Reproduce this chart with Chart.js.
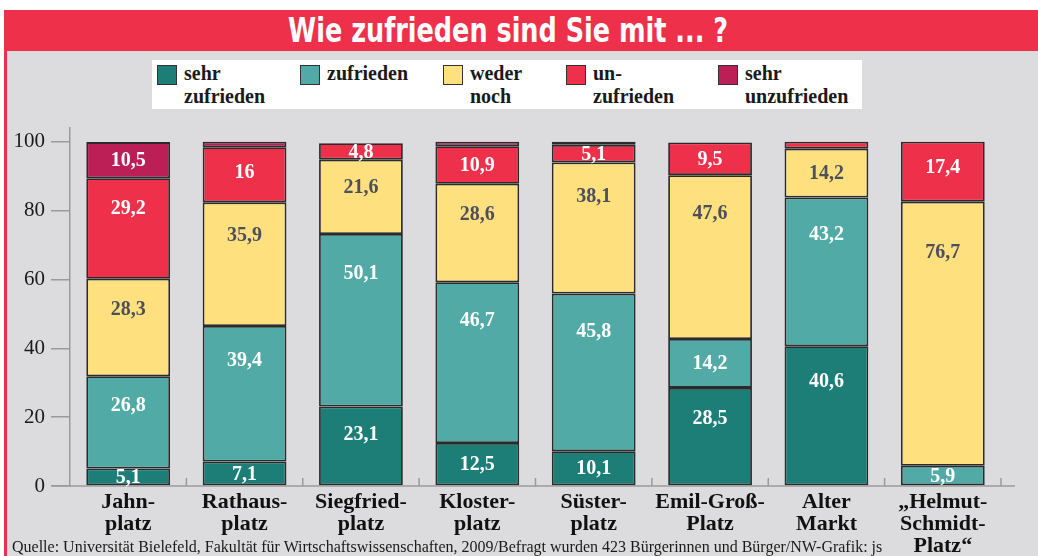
<!DOCTYPE html>
<html lang="de">
<head>
    <meta charset="UTF-8">
    <title>Wie zufrieden sind Sie mit ... ?</title>
    <script src="https://cdn.jsdelivr.net/npm/chart.js"></script>
    <style>
        body {
            margin: 0;
            width: 1038px;
            height: 556px;
            background: #fff;
            position: relative;
            overflow: hidden;
            font-family: "Liberation Serif", "DejaVu Serif", serif;
        }
        .frame {
            position: absolute;
            left: 4px; top: 10px; width: 1034px; height: 546px;
            background: #ef304b;
        }
        .panel {
            position: absolute;
            left: 7px; top: 51px; width: 1031px; height: 505px;
            background: #dcdcde;
        }
        .title {
            position: absolute;
            left: 0; top: 10px; width: 1016px; height: 41px;
            line-height: 41px;
            text-align: center;
            color: #fff;
            font-family: "Liberation Sans Narrow", "DejaVu Sans Condensed", sans-serif;
            font-weight: bold;
            font-size: 33px;
        }
        .title span { display: inline-block; transform-origin: 50% 50%; }
        .legend {
            position: absolute;
            left: 152px; top: 60px; width: 710px; height: 49px;
            background: #fff;
        }
        .legend .item { position: absolute; top: 0; }
        .legend .swatch {
            position: absolute;
            top: 5px; left: 0;
            width: 18px; height: 18px;
            border: 1px solid #333;
        }
        .legend .text {
            position: absolute;
            top: 2px; left: 27px;
            white-space: nowrap;
            font-weight: bold;
            font-size: 20px;
            line-height: 23px;
            color: #1a1a1a;
        }
        #chart { position: absolute; left: 0; top: 0; }
        .source {
            position: absolute;
            left: 12px; top: 537px;
            white-space: nowrap;
            font-size: 16px;
            line-height: 20px;
            color: #1a1a1a;
        }
    </style>
</head>
<body>
    <div class="frame"></div>
    <div class="panel"></div>
    <div class="title"><span id="titleText">Wie zufrieden sind Sie mit ... ?</span></div>
    <div class="legend" id="legend"></div>
    <canvas id="chart" width="1038" height="556"></canvas>
    <div class="source">Quelle: Universität Bielefeld, Fakultät für Wirtschaftswissenschaften, 2009/Befragt wurden 423 Bürgerinnen und Bürger/NW-Grafik: js</div>
    <script>
        const categories = [
            ['Jahn-', 'platz'],
            ['Rathaus-', 'platz'],
            ['Siegfried-', 'platz'],
            ['Kloster-', 'platz'],
            ['Süster-', 'platz'],
            ['Emil-Groß-', 'Platz'],
            ['Alter', 'Markt'],
            ['„Helmut-', 'Schmidt-', 'Platz“']
        ];
        const sehrZufrieden   = [5.1, 7.1, 23.1, 12.5, 10.1, 28.5, 40.6, null];
        const zufrieden       = [26.8, 39.4, 50.1, 46.7, 45.8, 14.2, 43.2, 5.9];
        const wederNoch       = [28.3, 35.9, 21.6, 28.6, 38.1, 47.6, 14.2, 76.7];
        const unzufrieden     = [29.2, 16, 4.8, 10.9, 5.1, 9.5, 2.0, 17.4];
        const sehrUnzufrieden = [10.5, 1.6, null, 1.3, 0.9, null, null, null];
        const seriesNames = [['sehr', 'zufrieden'], ['zufrieden'], ['weder', 'noch'], ['un-', 'zufrieden'], ['sehr', 'unzufrieden']];
        const yTicks = [0, 20, 40, 60, 80, 100];

        const colors = ['#1d7e77', '#51aaa5', '#fee07f', '#ef304b', '#bc1e56'];
        const labelColors = ['#fff', '#fff', '#4d505a', '#fff', '#fff'];
        const legendX = [5, 148, 291, 414, 566];
        const series = [sehrZufrieden, zufrieden, wederNoch, unzufrieden, sehrUnzufrieden];

        // squeeze the title to the width of the condensed original
        const titleText = document.getElementById('titleText');
        titleText.style.transform = 'scaleX(' + (440 / titleText.getBoundingClientRect().width) + ')';

        // legend as html
        const legend = document.getElementById('legend');
        seriesNames.forEach((name, i) => {
            const item = document.createElement('div');
            item.className = 'item';
            item.style.left = legendX[i] + 'px';
            item.innerHTML = '<div class="swatch" style="background:' + colors[i] + '"></div>' +
                '<div class="text">' + name.join('<br>') + '</div>';
            legend.appendChild(item);
        });

        // value labels inside the segments
        const valueLabels = {
            id: 'valueLabels',
            afterDatasetsDraw(chart) {
                const ctx = chart.ctx;
                ctx.save();
                ctx.font = 'bold 20px "Liberation Serif", serif';
                ctx.textAlign = 'center';
                ctx.textBaseline = 'middle';
                chart.data.datasets.forEach((ds, i) => {
                    chart.getDatasetMeta(i).data.forEach((bar, j) => {
                        const v = ds.data[j];
                        if (v == null || v < 3) return;
                        const h = bar.base - bar.y;
                        const off = Math.min(h / 2, 18 + 0.12 * h);
                        ctx.fillStyle = labelColors[i];
                        ctx.fillText(String(v).replace('.', ','), bar.x, bar.y + off + 1);
                    });
                });
                ctx.restore();
            }
        };

        // baseline with small ticks between the categories
        const baseAxis = {
            id: 'baseAxis',
            beforeDatasetsDraw(chart) {
                const { ctx, chartArea, scales } = chart;
                const y0 = scales.y.getPixelForValue(0);
                const step = (chartArea.right - chartArea.left) / categories.length;
                ctx.save();
                ctx.strokeStyle = '#9a9a9a';
                ctx.lineWidth = 1.5;
                ctx.beginPath();
                ctx.moveTo(chartArea.left - 19, y0);
                ctx.lineTo(chartArea.right + 14, y0);
                for (let i = 1; i <= categories.length; i++) {
                    const x = chartArea.left + i * step;
                    ctx.moveTo(x, y0);
                    ctx.lineTo(x, y0 - 8);
                }
                ctx.stroke();
                ctx.restore();
            }
        };

        new Chart(document.getElementById('chart').getContext('2d'), {
            type: 'bar',
            data: {
                labels: categories,
                datasets: series.map((data, i) => ({
                    label: seriesNames[i].join(' '),
                    data: data,
                    backgroundColor: colors[i],
                    borderColor: '#2b2b2b',
                    borderWidth: 1.8,
                    borderSkipped: false,
                    barPercentage: 0.72,
                    categoryPercentage: 1
                }))
            },
            options: {
                responsive: false,
                animation: false,
                layout: { padding: { top: 128, right: 37, left: 0, bottom: 0 } },
                plugins: {
                    legend: { display: false },
                    tooltip: { enabled: false }
                },
                scales: {
                    x: {
                        stacked: true,
                        grid: { display: false, drawTicks: false },
                        border: { display: false },
                        ticks: {
                            color: '#111',
                            font: { family: '"Liberation Serif", serif', size: 22, weight: 'bold', lineHeight: 1.0 },
                            padding: 5,
                            maxRotation: 0,
                            autoSkip: false
                        },
                        afterFit: axis => { axis.height = 70; }
                    },
                    y: {
                        stacked: true,
                        min: 0,
                        max: 104,
                        afterBuildTicks: axis => {
                            axis.ticks = yTicks.map(v => ({ value: v }));
                        },
                        grid: {
                            drawOnChartArea: false,
                            drawTicks: true,
                            tickLength: 19,
                            color: '#9a9a9a',
                            lineWidth: 1.5
                        },
                        border: { display: true, color: '#9a9a9a', width: 1.5 },
                        ticks: {
                            color: '#1a1a1a',
                            font: { family: '"Liberation Serif", serif', size: 21 },
                            padding: 6
                        },
                        afterFit: axis => { axis.width = 70; }
                    }
                }
            },
            plugins: [baseAxis, valueLabels]
        });
    </script>
</body>
</html>
